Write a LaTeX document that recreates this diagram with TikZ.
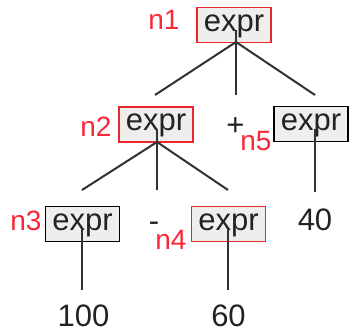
\documentclass[tikz,border=0pt]{standalone}
\usepackage{fontspec}
\setmainfont{Liberation Sans}
\definecolor{boxred}{RGB}{232,40,45}
\definecolor{tagred}{RGB}{250,40,55}
\definecolor{boxfill}{RGB}{238,238,238}
\definecolor{edgegray}{RGB}{50,50,50}
\definecolor{ink}{RGB}{35,35,35}
\tikzset{
  exprbox/.style={draw=black, fill=boxfill, line width=1.6pt,
    minimum width=74pt, minimum height=35pt, inner sep=0pt,
    text height=18pt, text depth=6pt, text=ink,
    font=\fontsize{31}{37}\selectfont},
  hot/.style={draw=boxred},
  leaf/.style={inner sep=0pt, anchor=base, text=ink, font=\fontsize{31}{37}\selectfont},
  tag/.style={inner sep=0pt, anchor=base, text=tagred, font=\fontsize{28}{34}\selectfont},
  branch/.style={draw=edgegray, line width=2pt}
}
\begin{document}
\begin{tikzpicture}[x=1pt, y=-1pt]
\useasboundingbox (0,0) rectangle (349,330);

% expression nodes
\node[exprbox, hot] (n1) at (234,25) {expr};
\node[exprbox, hot] (n2) at (156,124.5) {expr};
\node[exprbox] (n5) at (311,124) {expr};
\node[exprbox] (n3) at (82.5,224) {expr};
\node[exprbox, hot] (n4) at (228.5,224) {expr};

% terminals
\node[leaf] (plus) at (235.5,135) {+};
\node[leaf] (minus) at (154,231) {-};
\node[leaf] (v100) at (83.5,326) {100};
\node[leaf] (v60) at (228.5,326) {60};
\node[leaf] (v40) at (315,230) {40};

% node tags
\node[tag] (t1) at (164,29) {n1};
\node[tag] (t2) at (96,136) {n2};
\node[tag] (t5) at (256,150) {n5};
\node[tag] (t3) at (26,230) {n3};
\node[tag] (t4) at (171,249) {n4};

% branch ends
\coordinate (n1in) at (236,30);
\coordinate (n1ft) at (236,42);
\coordinate (n2hd) at (155,95);
\coordinate (plushd) at (236,95);
\coordinate (n5hd) at (315,95);
\coordinate (n2in) at (157,130);
\coordinate (n2ft) at (157,142);
\coordinate (n3hd) at (82,190);
\coordinate (minushd) at (157,190);
\coordinate (n4hd) at (228,190);
\coordinate (n3in) at (82,229);
\coordinate (v100hd) at (82,290);
\coordinate (n4in) at (228,229);
\coordinate (v60hd) at (228,290);
\coordinate (n5in) at (315,129);
\coordinate (v40hd) at (315,192);

% branches
\draw[branch] (n1ft) -- (n2hd);
\draw[branch] (n1in) -- (plushd);
\draw[branch] (n1ft) -- (n5hd);
\draw[branch] (n2ft) -- (n3hd);
\draw[branch] (n2in) -- (minushd);
\draw[branch] (n2ft) -- (n4hd);
\draw[branch] (n3in) -- (v100hd);
\draw[branch] (n4in) -- (v60hd);
\draw[branch] (n5in) -- (v40hd);
\end{tikzpicture}
\end{document}
